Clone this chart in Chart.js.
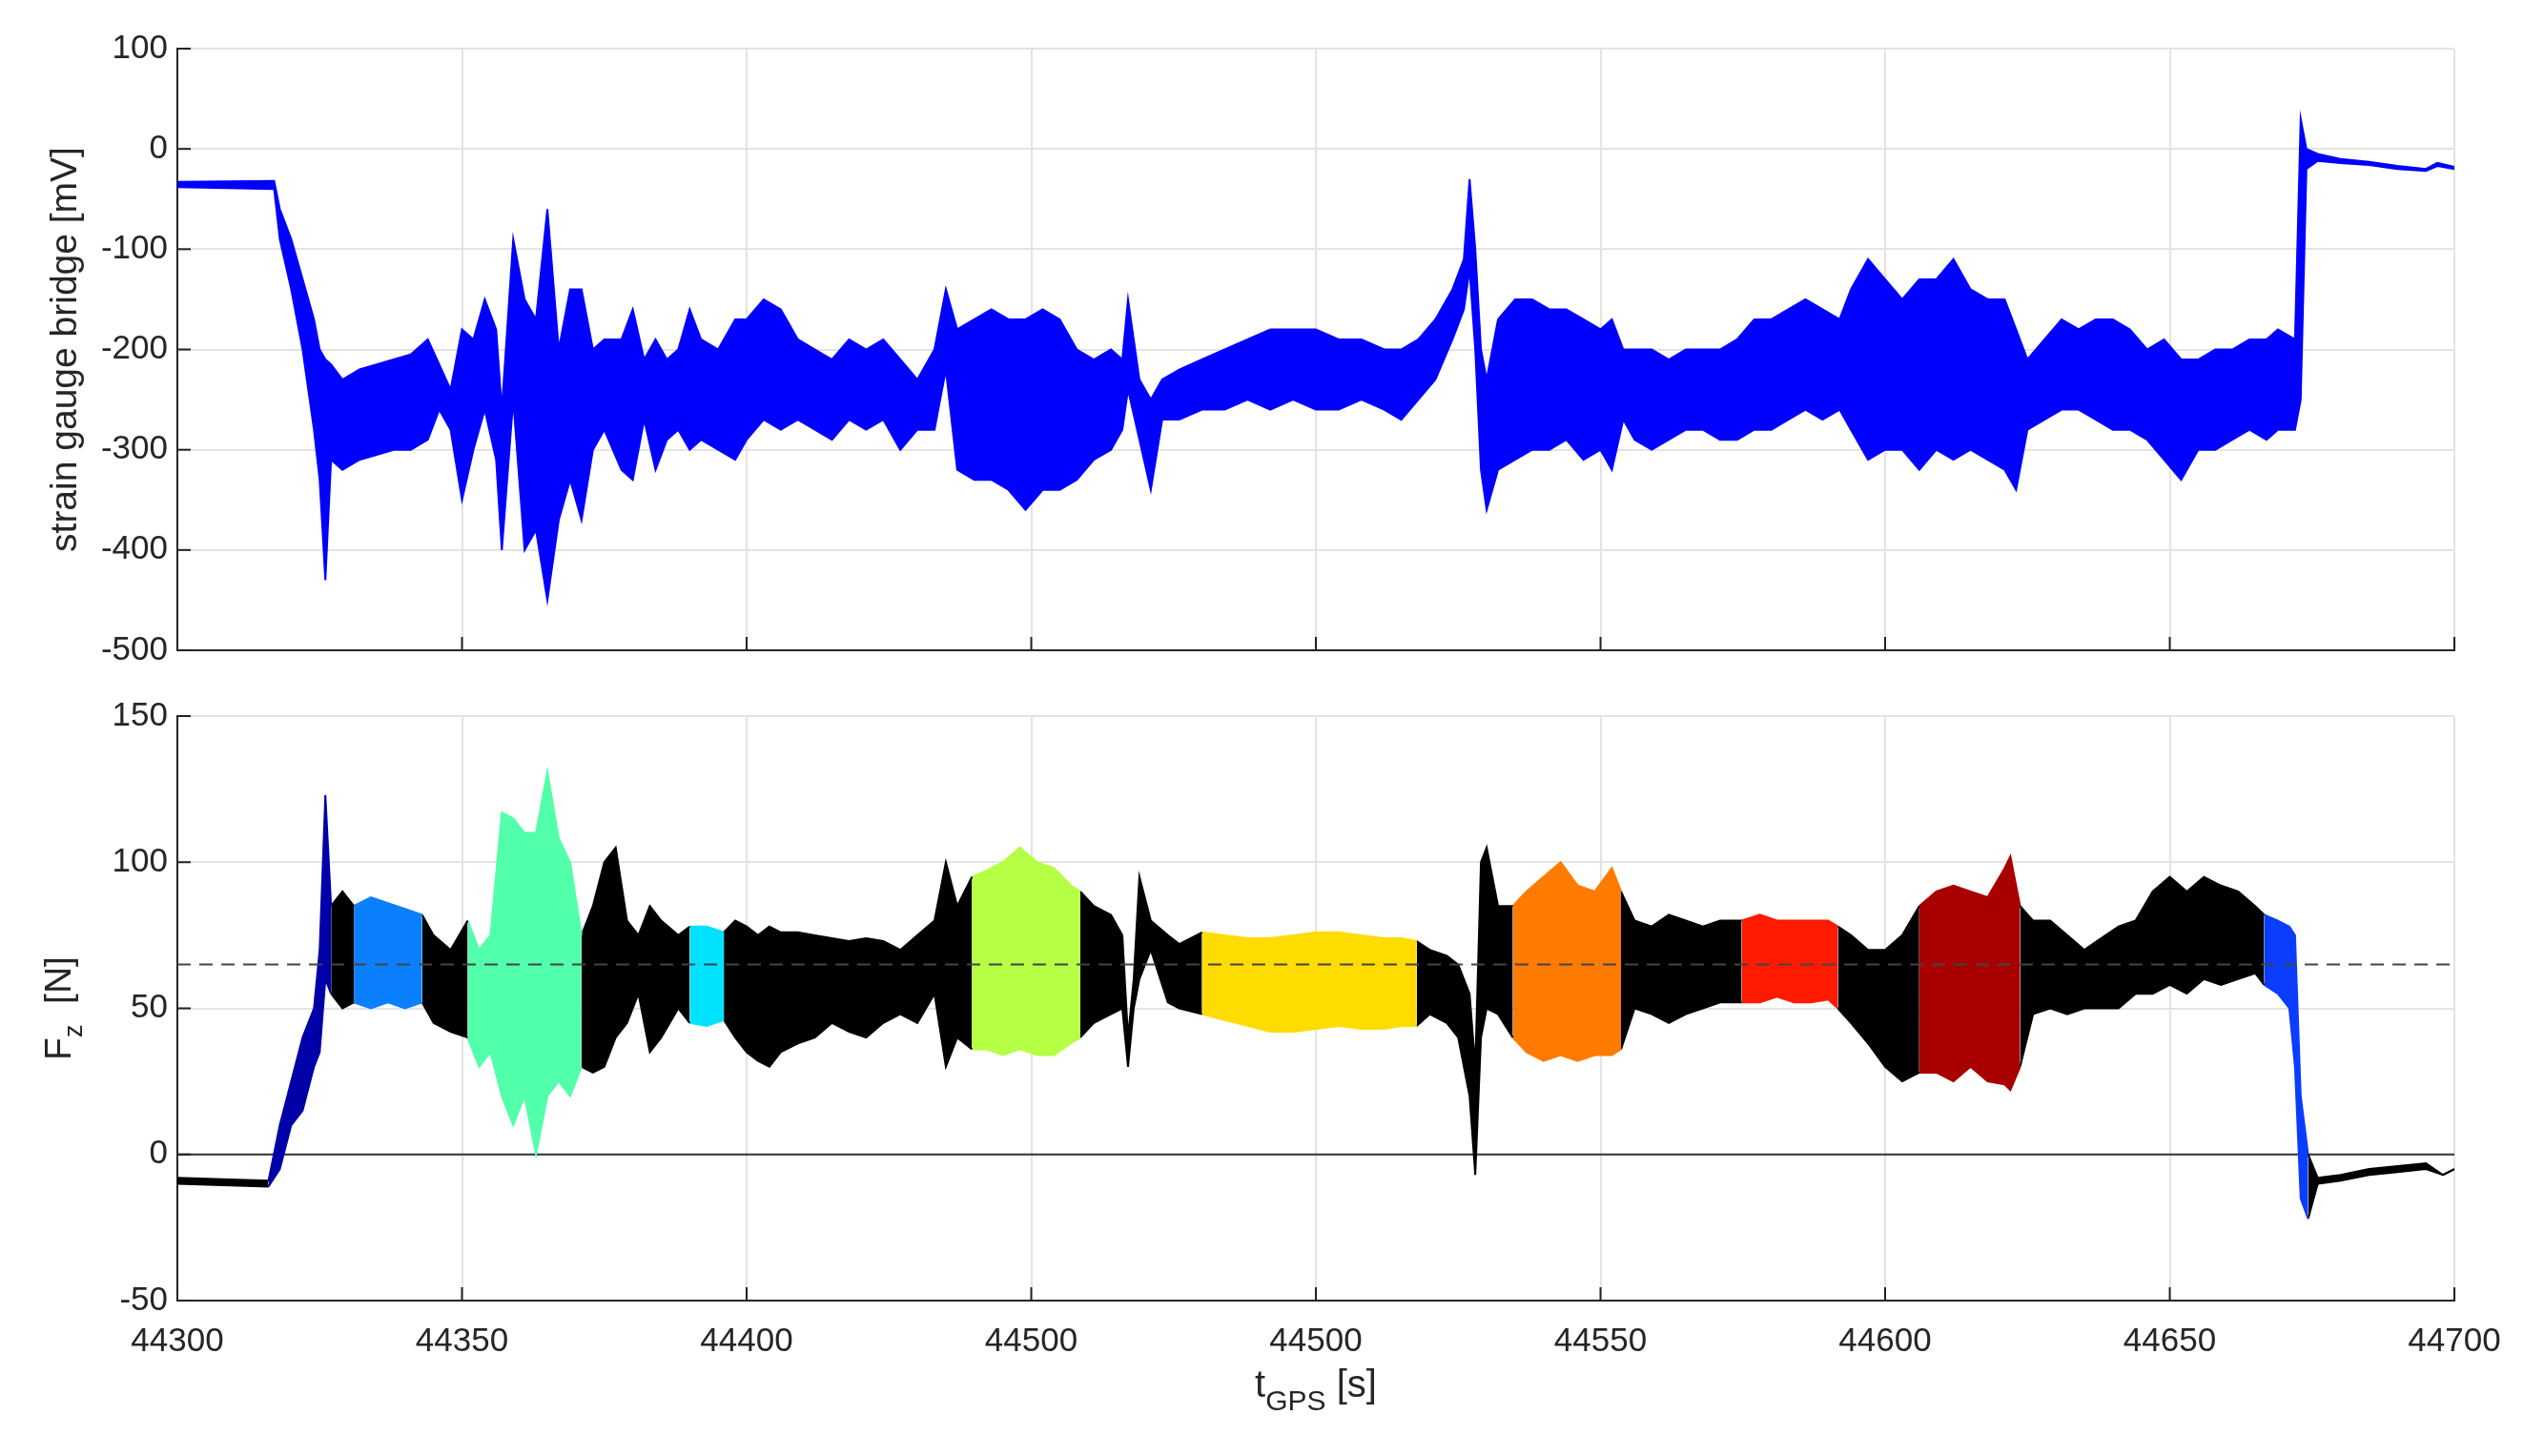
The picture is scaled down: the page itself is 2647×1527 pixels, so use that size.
<!DOCTYPE html>
<html>
<head>
<meta charset="utf-8">
<script src="https://cdn.jsdelivr.net/npm/chart.js@4.4.1/dist/chart.umd.min.js"></script>
<style>
  body { margin: 0; background: #fff; }
  canvas { position: absolute; left: 0; }
</style>
</head>
<body>
<canvas id="top" width="2647" height="720" style="top:0"></canvas>
<canvas id="bot" width="2647" height="807" style="top:720px"></canvas>
<script>
// x tick labels as printed in the figure (the 4th one really reads 44500)
const xTicks = [44300, 44350, 44400, 44450, 44500, 44550, 44600, 44650, 44700];
const xTickLabels = ['44300', '44350', '44400', '44500', '44500', '44550', '44600', '44650', '44700'];

// strain gauge envelope (upper / lower), mV
const sgT  = [44300,44317,44318,44320,44322,44324,44325,44326,44327,44329,44332,44335,44338,44341,44344,44346,44348,44350,44352,44354,44356,44357,44359,44361,44363,44365,44367,44369,44371,44373,44375,44378,44380,44382,44384,44386,44388,44390,44392,44395,44398,44400,44403,44406,44409,44412,44415,44418,44421,44424,44427,44430,44433,44435,44437,44440,44443,44446,44449,44452,44455,44458,44461,44464,44466,44467,44469,44471,44473,44476,44480,44484,44488,44492,44496,44500,44504,44508,44512,44515,44518,44521,44524,44526,44527,44528,44529,44530,44532,44535,44538,44541,44544,44547,44550,44552,44554,44556,44559,44562,44565,44568,44571,44574,44577,44580,44583,44586,44589,44592,44594,44597,44600,44603,44606,44609,44612,44615,44618,44621,44623,44625,44628,44631,44634,44637,44640,44643,44646,44649,44652,44655,44658,44661,44664,44667,44669,44672,44673,44674,44676,44680,44685,44690,44695,44697,44700];
const sgHi = [-33,-32,-60,-90,-130,-170,-200,-210,-215,-230,-220,-215,-210,-205,-190,-215,-240,-180,-190,-150,-180,-260,-90,-150,-170,-60,-200,-140,-140,-200,-190,-190,-160,-210,-190,-210,-200,-160,-190,-200,-170,-170,-150,-160,-190,-200,-210,-190,-200,-190,-210,-230,-200,-140,-180,-170,-160,-170,-170,-160,-170,-200,-210,-200,-210,-150,-230,-250,-230,-220,-210,-200,-190,-180,-180,-180,-190,-190,-200,-200,-190,-170,-140,-110,-30,-100,-200,-230,-170,-150,-150,-160,-160,-170,-180,-170,-200,-200,-200,-210,-200,-200,-200,-190,-170,-170,-160,-150,-160,-170,-140,-110,-130,-150,-130,-130,-110,-140,-150,-150,-180,-210,-190,-170,-180,-170,-170,-180,-200,-190,-210,-210,-200,-200,-190,-190,-180,-190,30,0,-5,-10,-13,-17,-20,-14,-18];
const sgLo = [-38,-40,-90,-140,-200,-280,-330,-430,-310,-320,-310,-305,-300,-300,-290,-260,-280,-350,-300,-260,-310,-400,-250,-400,-380,-450,-370,-330,-370,-300,-280,-320,-330,-270,-320,-290,-280,-300,-290,-300,-310,-290,-270,-280,-270,-280,-290,-270,-280,-270,-300,-280,-280,-220,-320,-330,-330,-340,-360,-340,-340,-330,-310,-300,-280,-240,-290,-340,-270,-270,-260,-260,-250,-260,-250,-260,-260,-250,-260,-270,-250,-230,-190,-160,-120,-200,-320,-360,-320,-310,-300,-300,-290,-310,-300,-320,-270,-290,-300,-290,-280,-280,-290,-290,-280,-280,-270,-260,-270,-260,-280,-310,-300,-300,-320,-300,-310,-300,-310,-320,-340,-280,-270,-260,-260,-270,-280,-280,-290,-310,-330,-300,-300,-290,-280,-290,-280,-280,-250,-20,-12,-14,-16,-20,-22,-17,-20];

// vertical force envelope (upper / lower), N
const fzT  = [44300,44316,44318,44320,44322,44324,44325,44326,44327,44329,44331,44334,44337,44340,44343,44345,44348,44351,44353,44355,44357,44359,44361,44363,44365,44367,44369,44371,44373,44375,44377,44379,44381,44383,44385,44388,44390,44393,44396,44398,44400,44402,44404,44406,44409,44412,44415,44418,44421,44424,44427,44430,44433,44435,44437,44439.6,44442,44445,44448,44451,44454,44457,44458.6,44461,44464,44466,44467,44468,44469,44471,44474,44476,44480,44484,44488,44492,44496,44500,44504,44508,44512,44515,44517.7,44520,44523,44525,44527,44528,44529,44530,44532,44534.6,44537,44540,44543,44546,44549,44552,44553.6,44556,44559,44562,44565,44568,44571,44574.8,44578,44581,44584,44587,44590,44591.7,44594,44597,44600,44603,44606,44609,44612,44615,44618,44621,44622,44623.7,44626,44629,44632,44635,44638,44641,44644,44647,44650,44653,44656,44659,44662,44665,44666.6,44669,44671,44672,44673,44674.3,44676,44680,44685,44690,44695,44698,44700];
const fzHi = [-8,-9,10,25,40,50,70,123,85,90,85,88,86,84,82,75,70,80,70,75,117,115,110,110,131,108,100,75,85,100,105,80,75,85,80,75,78,78,76,80,78,75,78,76,76,75,74,73,74,73,70,75,80,100,85,95,97,100,105,100,98,92,90,85,82,75,40,60,95,80,75,72,76,75,74,74,75,76,76,75,74,74,73,70,68,65,55,30,100,105,85,85,90,95,100,92,90,98,90,80,78,82,80,78,80,80,82,80,80,80,80,78,75,70,70,75,85,90,92,90,88,98,102,85,80,80,75,70,74,78,80,90,95,90,95,92,90,85,82,80,78,75,20,0,-8,-7,-5,-4,-3,-7,-5];
const fzLo = [-10,-11,-5,10,15,30,35,60,55,50,52,50,52,50,52,45,42,40,30,35,20,10,20,0,20,25,20,30,28,30,40,45,55,35,40,50,45,44,46,40,35,32,30,35,38,40,45,42,40,45,48,45,55,30,40,36,36,34,36,34,34,38,40,45,48,50,30,50,60,70,52,50,48,46,44,42,42,43,44,43,43,44,44,48,45,40,20,-7,40,50,48,40,35,32,34,32,34,34,36,50,48,45,48,50,52,52,52,54,52,52,53,50,45,38,30,25,28,28,25,30,25,24,22,30,48,50,48,50,50,50,55,55,58,55,60,58,60,62,58,55,50,30,-15,-22,-10,-9,-7,-6,-5,-7,-5];

// coloured test sections: start time of each section and its colour
const fzBreaks = [44300, 44316, 44327, 44331, 44343, 44351, 44371, 44390, 44396, 44439.6, 44458.6, 44480, 44517.7, 44534.6, 44553.6, 44574.8, 44591.7, 44606, 44623.7, 44666.6, 44674.3];
const fzColors = ['#000000','#0000a8','#000000','#0a80ff','#000000','#52ffaa','#000000','#00e2ff','#000000','#b5ff45','#000000','#ffdc00','#000000','#ff7b00','#000000','#ff1a00','#000000','#a80000','#000000','#0a3dff','#000000'];
const fzRef = 65;

function envelope(t, hi, lo, from, to, color) {
  const up = [], dn = [];
  t.forEach((x, i) => {
    if (x >= from && x <= to) { up.push({x: x, y: hi[i]}); dn.push({x: x, y: lo[i]}); }
  });
  return [
    {data: up, borderColor: color, backgroundColor: color, borderWidth: 2, pointRadius: 0, fill: '+1', tension: 0},
    {data: dn, borderColor: color, backgroundColor: color, borderWidth: 2, pointRadius: 0, fill: false, tension: 0}
  ];
}

const font = 'Liberation Sans, Arial, sans-serif';

const frame = {
  id: 'frame',
  afterDraw(chart, args, opts) {
    const ctx = chart.ctx, a = chart.chartArea;
    ctx.save();
    ctx.strokeStyle = '#222';
    ctx.lineWidth = 2;
    chart.scales.x.ticks.forEach(tk => {
      const px = chart.scales.x.getPixelForValue(tk.value);
      ctx.beginPath(); ctx.moveTo(px, a.bottom); ctx.lineTo(px, a.bottom - 14); ctx.stroke();
    });
    chart.scales.y.ticks.forEach(tk => {
      const py = chart.scales.y.getPixelForValue(tk.value);
      ctx.beginPath(); ctx.moveTo(a.left, py); ctx.lineTo(a.left + 14, py); ctx.stroke();
    });
    ctx.fillStyle = '#262626';
    ctx.textAlign = 'left';
    ctx.textBaseline = 'alphabetic';
    // y title
    ctx.save();
    ctx.translate(opts.yx, (a.top + a.bottom) / 2);
    ctx.rotate(-Math.PI / 2);
    const parts = opts.yTitle;
    let w = 0;
    parts.forEach(p => { ctx.font = (p.sub ? '27px ' : '39px ') + font; w += ctx.measureText(p.s).width; });
    let cx = -w / 2;
    parts.forEach(p => {
      ctx.font = (p.sub ? '27px ' : '39px ') + font;
      ctx.fillText(p.s, cx, p.sub ? 24 : 12);
      cx += ctx.measureText(p.s).width;
    });
    ctx.restore();
    if (opts.xTitle) {
      let w2 = 0;
      opts.xTitle.forEach(p => { ctx.font = (p.sub ? '30px ' : '40px ') + font; w2 += ctx.measureText(p.s).width; });
      let x0 = (a.left + a.right) / 2 - w2 / 2;
      opts.xTitle.forEach(p => {
        ctx.font = (p.sub ? '30px ' : '40px ') + font;
        ctx.fillText(p.s, x0, opts.xy + (p.sub ? 14 : 0));
        x0 += ctx.measureText(p.s).width;
      });
    }
    ctx.restore();
  }
};

function xScale(showLabels) {
  return {
    type: 'linear', min: 44300, max: 44700,
    afterBuildTicks: s => { s.ticks = xTicks.map(v => ({value: v})); },
    afterFit: s => { s.height = showLabels ? 163 : 38; },
    grid: {color: '#e3e3e3', lineWidth: 2, drawTicks: false},
    border: {color: '#262626', width: 2},
    ticks: {
      display: showLabels, padding: 22, color: '#262626', font: {family: font, size: 35}, maxRotation: 0,
      callback: v => xTickLabels[xTicks.indexOf(v)]
    }
  };
}

function yScale(min, max, step) {
  return {
    min: min, max: max,
    afterFit: s => { s.width = 186; },
    grid: {color: '#e3e3e3', lineWidth: 2, drawTicks: false},
    border: {color: '#262626', width: 2},
    ticks: {stepSize: step, padding: 10, color: '#262626', font: {family: font, size: 35}}
  };
}

new Chart(document.getElementById('top'), {
  type: 'line',
  data: {datasets: envelope(sgT, sgHi, sgLo, 44300, 44700, '#0000ff')},
  options: {
    responsive: false, animation: false, devicePixelRatio: 1,
    layout: {padding: {top: 51, right: 73, left: 0, bottom: 0}},
    plugins: {legend: {display: false}, tooltip: {enabled: false},
      frame: {yx: 68, yTitle: [{s: 'strain gauge bridge [mV]'}]}},
    scales: {x: xScale(false), y: yScale(-500, 100, 100)}
  },
  plugins: [frame]
});

const fzSets = [];
for (let i = 0; i < fzBreaks.length; i++) {
  const to = i + 1 < fzBreaks.length ? fzBreaks[i + 1] : 44700;
  fzSets.push(...envelope(fzT, fzHi, fzLo, fzBreaks[i], to, fzColors[i]));
}
fzSets.push({data: [{x: 44300, y: 0}, {x: 44700, y: 0}], borderColor: '#333', borderWidth: 2, pointRadius: 0, fill: false, order: 5});
fzSets.push({data: [{x: 44300, y: fzRef}, {x: 44700, y: fzRef}], borderColor: '#444', borderWidth: 2, borderDash: [14, 9], pointRadius: 0, fill: false, order: -1});

new Chart(document.getElementById('bot'), {
  type: 'line',
  data: {datasets: fzSets},
  options: {
    responsive: false, animation: false, devicePixelRatio: 1,
    layout: {padding: {top: 31, right: 73, left: 0, bottom: 0}},
    plugins: {legend: {display: false}, tooltip: {enabled: false},
      frame: {yx: 62, xy: 745, yTitle: [{s: 'F'}, {s: 'z', sub: true}, {s: '  [N]'}],
        xTitle: [{s: 't'}, {s: 'GPS', sub: true}, {s: ' [s]'}]}},
    scales: {x: xScale(true), y: yScale(-50, 150, 50)}
  },
  plugins: [frame]
});
</script>
</body>
</html>
